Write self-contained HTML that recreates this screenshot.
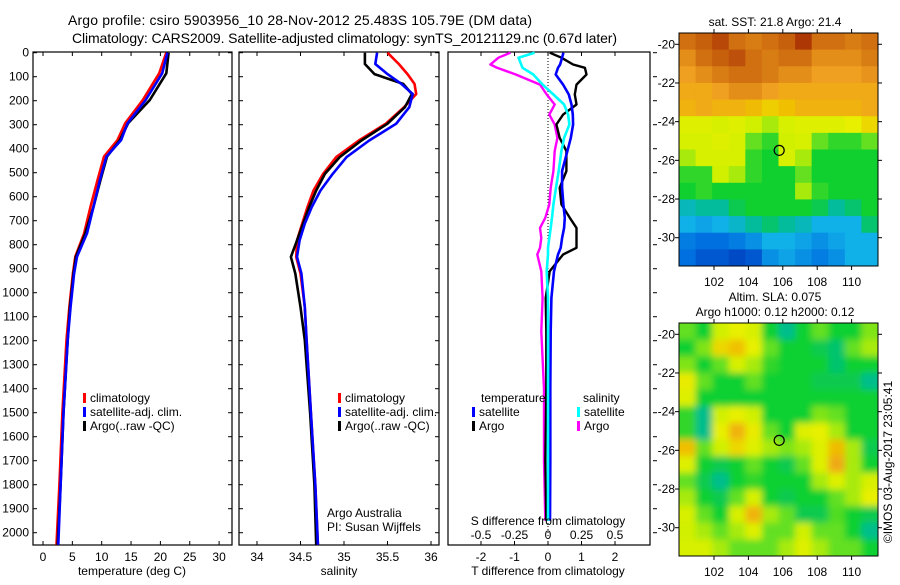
<!DOCTYPE html>
<html><head><meta charset="utf-8"><style>
body{margin:0;background:#fff}
svg text{font-family:"Liberation Sans",sans-serif;font-size:12px;fill:#000}
</style></head><body>
<svg id="c" width="900" height="580" viewBox="0 0 900 580" xmlns="http://www.w3.org/2000/svg">
<rect width="900" height="580" fill="#fff"/>
<text x="68" y="25" textLength="464" style="font-size:14px">Argo profile: csiro 5903956_10 28-Nov-2012 25.483S 105.79E (DM data)</text>
<text x="72" y="43" textLength="545" style="font-size:14px">Climatology: CARS2009. Satellite-adjusted climatology: synTS_20121129.nc (0.67d later)</text>
<g id="g"></g>
</svg>
<script>
// ---- Profile data (depth in m) ----
const tDepth = [0, 86, 197, 294, 364, 433, 530, 642, 753, 850, 920, 1058, 1197, 1500, 1800, 2050];
const tClim  = [21.0, 19.8, 17.0, 14.0, 12.7, 10.4, 9.3, 8.1, 7.0, 5.5, 5.1, 4.5, 4.0, 3.3, 2.8, 2.3];
const tSat   = [21.2, 20.3, 17.5, 14.4, 13.3, 10.8, 9.7, 8.6, 7.5, 5.8, 5.3, 4.7, 4.2, 3.5, 3.0, 2.6];
const tArgo  = [21.4, 21.0, 18.2, 14.5, 13.1, 10.9, 9.8, 8.6, 7.2, 5.6, 5.2, 4.6, 4.2, 3.5, 3.0, 2.5];

const sDepth = [0, 47, 89, 130, 172, 227, 296, 366, 435, 505, 574, 643, 712, 782, 851, 920, 1060, 1198, 1500, 1800, 2050];
const sClim  = [35.50, 35.63, 35.73, 35.81, 35.83, 35.69, 35.48, 35.17, 34.91, 34.76, 34.65, 34.58, 34.52, 34.46, 34.45, 34.50, 34.55, 34.57, 34.62, 34.67, 34.70];
const sSat   = [35.38, 35.36, 35.50, 35.66, 35.79, 35.75, 35.60, 35.29, 35.03, 34.87, 34.73, 34.63, 34.55, 34.49, 34.46, 34.51, 34.55, 34.57, 34.62, 34.67, 34.70];
const sArgo  = [35.24, 35.24, 35.35, 35.68, 35.78, 35.70, 35.50, 35.20, 34.95, 34.78, 34.68, 34.60, 34.53, 34.46, 34.39, 34.44, 34.50, 34.55, 34.61, 34.66, 34.68];

const dDepth = [0, 21, 49, 63, 91, 133, 174, 216, 258, 299, 355, 410, 493, 563, 632, 688, 730, 772, 813, 841, 911, 1022, 1161, 1400, 1700, 1950];
const dTSat  = [0.46, 0.42, 0.36, 0.30, 0.23, 0.45, 0.62, 0.70, 0.74, 0.75, 0.68, 0.58, 0.42, 0.42, 0.46, 0.50, 0.48, 0.42, 0.38, 0.30, 0.18, 0.10, 0.08, 0.07, 0.07, 0.06];
const dTArgo = [0.05, 0.40, 0.75, 1.10, 1.15, 0.85, 0.80, 0.85, 0.45, 0.25, 0.35, 0.55, 0.55, 0.35, 0.40, 0.65, 0.85, 0.85, 0.85, 0.45, 0.05, -0.07, -0.05, -0.05, -0.08, -0.05];
const dSSat  = [-0.10, -0.22, -0.20, -0.19, -0.11, -0.04, 0.04, 0.12, 0.15, 0.16, 0.12, 0.10, 0.08, 0.06, 0.04, 0.03, 0.02, 0.01, 0.00, 0.00, -0.01, 0.00, 0.00, 0.00, 0.00, 0.00];
const dSArgo = [-0.28, -0.37, -0.43, -0.38, -0.24, -0.06, -0.01, 0.05, 0.01, 0.05, 0.07, 0.05, 0.04, 0.02, 0.01, -0.02, -0.06, -0.05, -0.06, -0.08, -0.05, -0.04, -0.05, -0.03, -0.03, -0.02];

const depthTicks = [0,100,200,300,400,500,600,700,800,900,1000,1100,1200,1300,1400,1500,1600,1700,1800,1900,2000];
const tempTicks = [0,5,10,15,20,25,30];
const salTicks = [34,34.5,35,35.5,36];
const dTTicks = [-2,-1,0,1,2];
const dSTicks = [-0.5,-0.25,0,0.25,0.5];
const dSTickLabels = ["-0.5","-0.25","0","0.25","0.5"];

// ---- Map data (12 cols x 14 rows, 0..1 colour index) ----
const sstGrid = [
[0.9,0.92,0.95,0.9,0.88,0.9,0.92,0.97,0.9,0.9,0.88,0.9],
[0.85,0.9,0.92,0.94,0.9,0.88,0.9,0.9,0.85,0.85,0.85,0.88],
[0.82,0.85,0.88,0.9,0.9,0.88,0.85,0.85,0.82,0.82,0.82,0.84],
[0.8,0.8,0.82,0.85,0.85,0.82,0.8,0.8,0.8,0.8,0.8,0.8],
[0.78,0.8,0.78,0.78,0.76,0.72,0.75,0.78,0.78,0.78,0.78,0.8],
[0.62,0.62,0.6,0.62,0.58,0.55,0.6,0.62,0.62,0.62,0.65,0.7],
[0.6,0.6,0.62,0.6,0.5,0.45,0.58,0.6,0.5,0.45,0.45,0.5],
[0.55,0.6,0.6,0.6,0.45,0.42,0.6,0.55,0.42,0.42,0.42,0.42],
[0.45,0.45,0.58,0.55,0.45,0.42,0.42,0.5,0.42,0.42,0.42,0.42],
[0.42,0.45,0.42,0.42,0.42,0.42,0.42,0.55,0.45,0.42,0.42,0.42],
[0.33,0.35,0.35,0.4,0.42,0.42,0.42,0.42,0.4,0.35,0.38,0.42],
[0.3,0.28,0.3,0.32,0.35,0.38,0.35,0.33,0.3,0.3,0.3,0.38],
[0.22,0.2,0.2,0.22,0.25,0.3,0.3,0.28,0.25,0.28,0.3,0.3],
[0.2,0.15,0.15,0.12,0.15,0.25,0.28,0.25,0.22,0.25,0.3,0.3]];
const slaGrid = [
[0.5,0.42,0.58,0.65,0.6,0.42,0.36,0.42,0.5,0.42,0.42,0.52],
[0.42,0.52,0.7,0.75,0.65,0.5,0.42,0.42,0.4,0.38,0.5,0.55],
[0.52,0.42,0.5,0.6,0.55,0.45,0.42,0.42,0.42,0.38,0.42,0.42],
[0.66,0.5,0.42,0.42,0.5,0.42,0.42,0.42,0.4,0.4,0.4,0.36],
[0.62,0.42,0.42,0.42,0.42,0.42,0.42,0.42,0.42,0.42,0.42,0.42],
[0.45,0.36,0.58,0.65,0.58,0.42,0.42,0.42,0.52,0.5,0.42,0.42],
[0.45,0.36,0.65,0.78,0.66,0.5,0.42,0.62,0.65,0.55,0.42,0.42],
[0.75,0.5,0.58,0.7,0.62,0.55,0.52,0.55,0.62,0.76,0.55,0.4],
[0.62,0.42,0.4,0.42,0.5,0.42,0.4,0.5,0.62,0.8,0.55,0.42],
[0.5,0.4,0.36,0.42,0.45,0.42,0.42,0.42,0.55,0.62,0.55,0.6],
[0.55,0.42,0.4,0.5,0.6,0.42,0.4,0.42,0.42,0.5,0.55,0.65],
[0.6,0.5,0.42,0.6,0.78,0.55,0.5,0.4,0.4,0.48,0.42,0.4],
[0.58,0.55,0.5,0.55,0.62,0.5,0.5,0.58,0.5,0.5,0.42,0.36],
[0.6,0.6,0.55,0.5,0.5,0.5,0.55,0.62,0.55,0.5,0.5,0.42]];
const latTicks = [-20,-22,-24,-26,-28,-30];
const lonTicks = [102,104,106,108,110];
const argoLon = 105.79, argoLat = -25.483;

const NS='http://www.w3.org/2000/svg';
const G=document.getElementById('g');
function mk(tag,attrs,parent){const e=document.createElementNS(NS,tag);for(const k in attrs)e.setAttribute(k,attrs[k]);(parent||G).appendChild(e);return e;}
function txt(x,y,s,anchor,parent){const t=mk('text',{x:x,y:y,'text-anchor':anchor||'start'},parent);t.textContent=s;return t;}

const yD = d => 52.7 + d*0.24;
const xT = t => 43 + t*5.87;
const xS = s => 257 + (s-34)*87;
const xDT = v => 548 + v*33.5;
const xDS = v => 548 + v*134;

function frame(x0,x1,name){
  const r=mk('rect',{x:x0,y:52,width:x1-x0,height:493,fill:'none',stroke:'#000','stroke-width':1.2});
  
  
}
function line(xs,ds,xf,color,name,w){
  const pts=xs.map((v,i)=>xf(v).toFixed(1)+','+yD(ds[i]).toFixed(1)).join(' ');
  const p=mk('polyline',{points:pts,fill:'none',stroke:color,'stroke-width':w||2.6,'stroke-linejoin':'round'});
  
  
}
function bottomTicks(vals,xf,labels,y,name){
  vals.forEach((v,i)=>{
    mk('line',{x1:xf(v),x2:xf(v),y1:545,y2:541,stroke:'#000'});
    mk('line',{x1:xf(v),x2:xf(v),y1:52,y2:56,stroke:'#000'});
    const t=txt(xf(v),y,labels?labels[i]:String(v),'middle');
    
    
  });
}

// Panel 1 temperature
frame(33,232,'temperature-panel');
depthTicks.forEach(d=>{
  mk('line',{x1:33,x2:37,y1:yD(d),y2:yD(d),stroke:'#000'});
  mk('line',{x1:228,x2:232,y1:yD(d),y2:yD(d),stroke:'#000'});
  mk('line',{x1:239,x2:243,y1:yD(d),y2:yD(d),stroke:'#000'});
  mk('line',{x1:435,x2:439,y1:yD(d),y2:yD(d),stroke:'#000'});
  mk('line',{x1:653,x2:657,y1:yD(d),y2:yD(d),stroke:'#000'});
  const t=txt(29,yD(d)+4,String(d),'end');
  
  
});
bottomTicks(tempTicks,xT,null,561,'temperature-tick-label');
line(tClim,tDepth,xT,'#f00','temperature-climatology-line');
line(tArgo,tDepth,xT,'#000','temperature-argo-line');
line(tSat,tDepth,xT,'#00f','temperature-satellite-line');
let t=txt(132,575,'temperature (deg C)','middle');

// Panel 2 salinity
frame(239,439,'salinity-panel');
bottomTicks(salTicks,xS,null,561,'salinity-tick-label');
line(sClim,sDepth,xS,'#f00','salinity-climatology-line');
line(sArgo,sDepth,xS,'#000','salinity-argo-line');
line(sSat,sDepth,xS,'#00f','salinity-satellite-line');
t=txt(339,575,'salinity','middle');
t=txt(327,517,'Argo Australia');
t=txt(327,531,'PI: Susan Wijffels');

// Panel 3 differences
frame(448,650,'difference-panel');
mk('line',{x1:548,x2:548,y1:52,y2:545,stroke:'#000','stroke-dasharray':'1,2'});
dTTicks.forEach(v=>{mk('line',{x1:xDT(v),x2:xDT(v),y1:52,y2:56,stroke:'#000'});});
dTTicks.forEach(v=>{mk('line',{x1:xDT(v),x2:xDT(v),y1:545,y2:541,stroke:'#000'});const e=txt(xDT(v),561,String(v),'middle');});
dSTicks.forEach((v,i)=>{const e=txt(xDS(v),539,dSTickLabels[i],'middle');});
line(dSArgo,dDepth,xDS,'#f0f','s-diff-argo-line',2.4);
line(dTArgo,dDepth,xDT,'#000','t-diff-argo-line',2.4);
line(dTSat,dDepth,xDT,'#00f','t-diff-satellite-line',2.6);
line(dSSat,dDepth,xDS,'#0ff','s-diff-satellite-line',2.6);
t=txt(548,525,'S difference from climatology','middle');
t=txt(548,575,'T difference from climatology','middle');

// legends
function legend(x,y,color,label,name){
  mk('rect',{x:x,y:y-9,width:3,height:10,fill:color});
  const e=txt(x+7,y,label);
  
  
}
legend(83,402,'#f00','climatology','legend-climatology');
legend(83,416,'#00f','satellite-adj. clim.','legend-satellite-adj');
legend(83,430,'#000','Argo(..raw -QC)','legend-argo');
legend(338,402,'#f00','climatology','legend-climatology-2');
legend(338,416,'#00f','satellite-adj. clim.','legend-satellite-adj-2');
legend(338,430,'#000','Argo(..raw -QC)','legend-argo-2');
t=txt(481,402,'temperature');
t=txt(583,402,'salinity');
legend(472,416,'#00f','satellite','legend-t-satellite');
legend(472,430,'#000','Argo','legend-t-argo');
legend(577,416,'#0ff','satellite','legend-s-satellite');
legend(577,430,'#f0f','Argo','legend-s-argo');

// ---- maps ----
const cstops=[[0.1,[0,64,192]],[0.2,[0,112,224]],[0.3,[16,176,232]],[0.36,[0,190,140]],[0.42,[16,208,48]],[0.5,[100,224,32]],[0.58,[208,240,0]],[0.65,[232,240,0]],[0.75,[240,192,0]],[0.82,[240,160,32]],[0.9,[208,112,16]],[1.0,[160,32,0]]];
function cmap(v){
  if(v<=cstops[0][0])return 'rgb('+cstops[0][1]+')';
  for(let i=1;i<cstops.length;i++){if(v<=cstops[i][0]){const a=cstops[i-1],b=cstops[i],f=(v-a[0])/(b[0]-a[0]);return 'rgb('+a[1].map((c,j)=>Math.round(c+(b[1][j]-c)*f)).join(',')+')';}}
  return 'rgb('+cstops[cstops.length-1][1]+')';
}
const mx0=679,mx1=878,lonX=lon=>714+(lon-102)*17.2;
function drawMap(grid,y0,y1,lat20y,name,blur){
  const latY=lat=>lat20y+(-20-lat)*19.34;
  const cw=(mx1-mx0)/grid[0].length,ch=(y1-y0)/grid.length;
  const g=mk('g',{});
  
  
  const id='cl'+y0;
  const cp=mk('clipPath',{id:id});mk('rect',{x:mx0,y:y0,width:mx1-mx0,height:y1-y0},cp);
  const inner=mk('g',{'clip-path':'url(#'+id+')'},g);
  const h=mk('g',blur?{filter:'url(#bl)'}:{},inner);
  grid.forEach((row,r)=>row.forEach((v,c)=>{
    const ex=blur?cw:0, ey=blur?ch:0;
    const cell=mk('rect',{x:mx0+c*cw-(c==0?ex:0),y:y0+r*ch-(r==0?ey:0),width:cw+0.6+(c==0||c==row.length-1?ex:0),height:ch+0.6+(r==0||r==grid.length-1?ey:0),fill:cmap(v)},h);
    
    
  }));
  mk('rect',{x:mx0,y:y0,width:mx1-mx0,height:y1-y0,fill:'none',stroke:'#000'},g);
  latTicks.forEach(l=>{mk('line',{x1:mx0,x2:mx0-4,y1:latY(l),y2:latY(l),stroke:'#000'},g);mk('line',{x1:mx1,x2:mx1+4,y1:latY(l),y2:latY(l),stroke:'#000'},g);
    const e=txt(675,latY(l)+4,String(l),'end',g);});
  lonTicks.forEach(l=>{mk('line',{x1:lonX(l),x2:lonX(l),y1:y1,y2:y1+4,stroke:'#000'},g);mk('line',{x1:lonX(l),x2:lonX(l),y1:y0,y2:y0-4,stroke:'#000'},g);
    const e=txt(lonX(l),y1+20,String(l),'middle',g);});
  const m=mk('circle',{cx:lonX(argoLon),cy:latY(argoLat),r:5,fill:'none',stroke:'#000','stroke-width':1.2},g);
  
  
}
const defs=mk('defs',{});const f=mk('filter',{id:'bl',x:'-10%',y:'-10%',width:'120%',height:'120%'},defs);mk('feGaussianBlur',{stdDeviation:3.5},f);
drawMap(sstGrid,33,266,44.3,'sst-map',false);
drawMap(slaGrid,323,556,334.3,'sla-map',true);
t=txt(775,26,'sat. SST: 21.8 Argo: 21.4','middle');
t=txt(775,301,'Altim. SLA: 0.075','middle');
t=txt(775,316,'Argo h1000: 0.12 h2000: 0.12','middle');
t=txt(0,0,'©IMOS 03-Aug-2017 23:05:41','middle');t.setAttribute('transform','translate(892,462) rotate(-90)');
</script>
</body></html>
